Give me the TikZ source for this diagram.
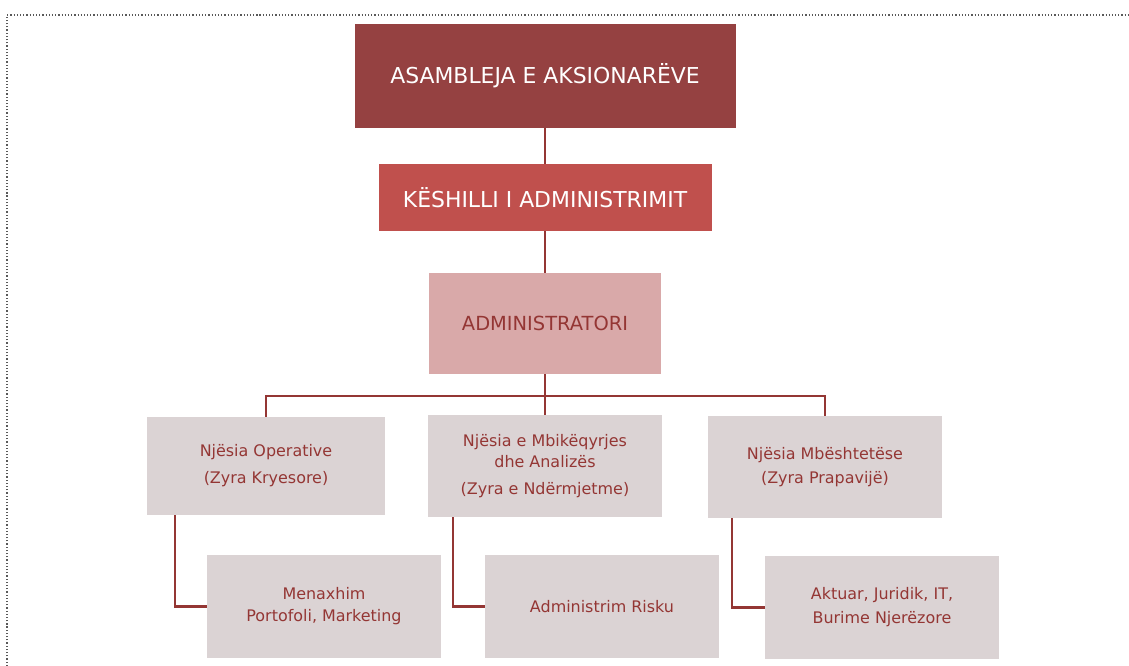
\documentclass[tikz,border=0pt]{standalone}
\usepackage{fontspec}
\setmainfont{DejaVu Sans}
\usepackage{tikz}
\usetikzlibrary{positioning}
\definecolor{asmred}{HTML}{954141}
\definecolor{kshred}{HTML}{C0504D}
\definecolor{admpink}{HTML}{D9A9A9}
\definecolor{unitgrey}{HTML}{DBD3D4}
\definecolor{txtred}{HTML}{943634}

\begin{document}
\begin{tikzpicture}[x=1bp, y=-1bp,
		box/.style={rectangle, inner sep=0pt, align=center},
		conn/.style={draw=txtred, line width=2.2bp},
		unit/.style={box, fill=unitgrey, text=txtred, minimum width=235bp, font=\fontsize{16}{22}\selectfont}]
		\useasboundingbox (0,0) rectangle (1129,666);
		% Dotted frame
		\draw[dotted, line width=1.2bp, black!65] (7,666) -- (7,15) -- (1129,15);
		% Top of the hierarchy
		\node[box, fill=asmred, text=white, minimum width=381bp, minimum height=104bp, font=\fontsize{22}{26}\selectfont] at (545,76) (asamb) {ASAMBLEJA E AKSIONARËVE};
		\node[box, fill=kshred, text=white, minimum width=333bp, minimum height=67bp, font=\fontsize{22}{26}\selectfont] at (545,197.5) (keshilli) {KËSHILLI I ADMINISTRIMIT};
		\node[box, fill=admpink, text=txtred, minimum width=232bp, minimum height=101bp, font=\fontsize{19.5}{24}\selectfont] at (545,323.5) (admin) {ADMINISTRATORI};
		\draw[conn] (asamb) -- (keshilli);
		\draw[conn] (keshilli) -- (admin);
		% Units
		\node[unit, minimum width=238bp, minimum height=98bp] at (266,466) (operative) {Njësia Operative\\[5bp](Zyra Kryesore)};
		\node[unit, minimum width=234bp, minimum height=102bp] at (545,466) (mbikeqyrje) {Njësia e Mbikëqyrjes\\[-1bp]dhe Analizës\\[5bp](Zyra e Ndërmjetme)};
		\node[unit, minimum width=234bp, minimum height=102bp] at (825,467) (mbeshtetese) {Njësia Mbështetëse\\[2bp](Zyra Prapavijë)};
		\coordinate (bus) at (545,396);
		\draw[conn] (admin) -- (bus);
		\draw[conn] (operative.north) |- (bus) -| (mbeshtetese.north);
		\draw[conn] (bus) -- (mbikeqyrje.north);
		% Sub units
		\node[unit, minimum width=234bp, minimum height=103bp] at (324,606.5) (portofoli) {Menaxhim\\Portofoli, Marketing};
		\node[unit, minimum width=234bp, minimum height=103bp] at (602,606.5) (risku) {Administrim Risku};
		\node[unit, minimum width=234bp, minimum height=103bp] at (882,607.5) (aktuar) {Aktuar, Juridik, IT,\\[2bp]Burime Njerëzore};
		\draw[conn] ([xshift=28bp]operative.south west) |- (portofoli.west);
		\draw[conn] ([xshift=25bp]mbikeqyrje.south west) |- (risku.west);
		\draw[conn] ([xshift=24bp]mbeshtetese.south west) |- (aktuar.west);
	\end{tikzpicture}
\end{document}
